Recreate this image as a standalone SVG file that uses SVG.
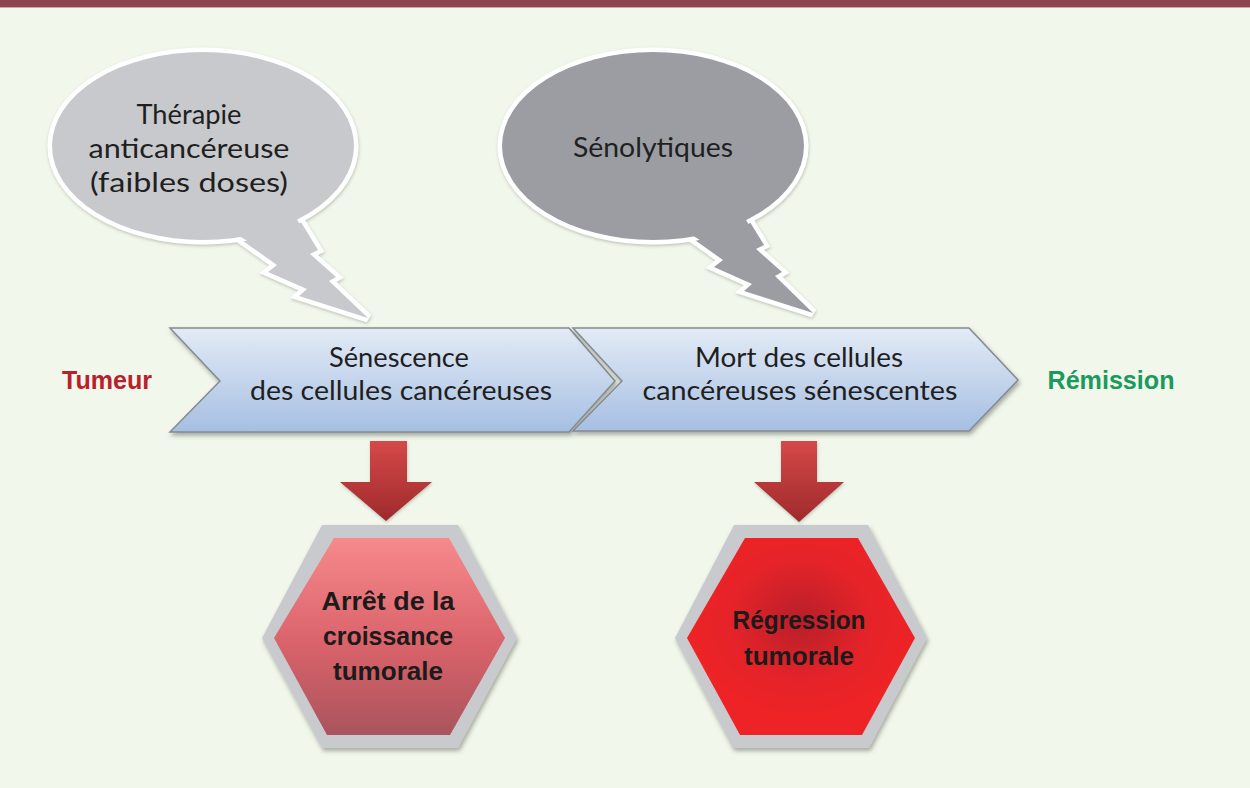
<svg xmlns="http://www.w3.org/2000/svg" width="1250" height="788" viewBox="0 0 1250 788">
<defs>
<style>
.lbl{font-family:Lato,"Open Sans","Noto Sans",sans-serif;font-size:27px;fill:#1f1f22;text-anchor:middle}
.bold{font-family:"Liberation Sans","Noto Sans",sans-serif;font-weight:bold;text-anchor:middle}
.hx{font-size:26px;fill:#1d1a1a}
.bub{stroke:#ffffff;stroke-width:9;stroke-linejoin:miter;paint-order:stroke}
.chev{fill:url(#gChev);stroke:#858b94;stroke-width:1.5;stroke-linejoin:miter}
.rim{fill:#c9cacd}
</style>
<linearGradient id="gChev" x1="0" y1="0" x2="0" y2="1">
<stop offset="0" stop-color="#e3ebf6"/>
<stop offset="1" stop-color="#a6bfe2"/>
</linearGradient>
<linearGradient id="gArrow" x1="0" y1="0" x2="0" y2="1">
<stop offset="0" stop-color="#d64848"/>
<stop offset="1" stop-color="#9e2a2c"/>
</linearGradient>
<linearGradient id="gHex1" x1="0" y1="0" x2="0" y2="1">
<stop offset="0" stop-color="#f68a8c"/>
<stop offset="0.55" stop-color="#d9626a"/>
<stop offset="1" stop-color="#a9545d"/>
</linearGradient>
<radialGradient id="gHex2" cx="0.5" cy="0.42" r="0.5">
<stop offset="0" stop-color="#b81f29"/>
<stop offset="0.6" stop-color="#e42329"/>
<stop offset="1" stop-color="#ee2325"/>
</radialGradient>
<filter id="sh" x="-10%" y="-10%" width="125%" height="130%">
<feDropShadow dx="1.5" dy="3" stdDeviation="2" flood-color="#4a4f45" flood-opacity="0.45"/>
</filter>
<filter id="shs" x="-10%" y="-10%" width="125%" height="130%">
<feDropShadow dx="0.5" dy="1.5" stdDeviation="1.5" flood-color="#5a5f55" flood-opacity="0.35"/>
</filter>
</defs>
<rect x="0" y="0" width="1250" height="788" fill="#f1f7ea"/>
<rect x="0" y="0" width="1250" height="7" fill="#8e4450"/>
<rect x="0" y="7" width="1250" height="1" fill="#c9a9a9"/>

<g id="bubble-therapie">
<g filter="url(#shs)">
<polygon class="bub" fill="#c8c9cc" points="236,236 296,214 318,250 310,254 336,277 329,281 368,318 299,296 307,289 268,272 277,265"/>
<ellipse class="bub" cx="203" cy="146" rx="151" ry="94" fill="#c8c9cc"/>
</g>
<polygon fill="#c8c9cc" points="236,234 294,214 304,232 262,250"/>
<text class="lbl" x="189" y="124" textLength="105" lengthAdjust="spacingAndGlyphs">Thérapie</text>
<text class="lbl" x="189" y="158" textLength="201" lengthAdjust="spacingAndGlyphs">anticancéreuse</text>
<text class="lbl" x="189" y="192" textLength="198" lengthAdjust="spacingAndGlyphs">(faibles doses)</text>
</g>

<g id="bubble-senolytiques">
<g filter="url(#shs)">
<polygon class="bub" fill="#9b9da3" points="682,231 742,209 764,245 756,249 782,272 775,276 813,313 744,291 752,284 714,267 723,260"/>
<ellipse class="bub" cx="653" cy="146" rx="151" ry="94" fill="#9b9da3"/>
</g>
<polygon fill="#9b9da3" points="682,229 740,209 750,227 708,245"/>
<text class="lbl" x="653" y="157" textLength="160" lengthAdjust="spacingAndGlyphs">Sénolytiques</text>
</g>

<g id="tumeur"><text class="bold" x="107" y="389" font-size="25" fill="#b8202e" textLength="90" lengthAdjust="spacingAndGlyphs">Tumeur</text></g>
<g id="remission"><text class="bold" x="1111" y="389" font-size="25" fill="#1b9a5f" textLength="127" lengthAdjust="spacingAndGlyphs">Rémission</text></g>

<g id="chevron-senescence">
<polygon class="chev" filter="url(#sh)" points="170,328 569,328 615,381 569,432 170,432 220,381"/>
<text class="lbl" x="399" y="367" textLength="140" lengthAdjust="spacingAndGlyphs">Sénescence</text>
<text class="lbl" x="401" y="400" textLength="302" lengthAdjust="spacingAndGlyphs">des cellules cancéreuses</text>
</g>

<g id="chevron-mort">
<polygon class="chev" filter="url(#sh)" points="573,328 969,328 1018,380 969,431 573,431 622,381"/>
<text class="lbl" x="799" y="367" textLength="208" lengthAdjust="spacingAndGlyphs">Mort des cellules</text>
<text class="lbl" x="800" y="400" textLength="315" lengthAdjust="spacingAndGlyphs">cancéreuses sénescentes</text>
</g>

<g id="connectors">
<polygon fill="url(#gArrow)" filter="url(#shs)" points="370,441 407,441 407,482 432,482 386,521 340,482 370,482"/>
<polygon fill="url(#gArrow)" filter="url(#shs)" points="781,441 817,441 817,482 844,482 799,522 754,482 781,482"/>
</g>

<g id="hex-arret">
<polygon class="rim" filter="url(#sh)" points="322,525 458,525 517,638 458,748 322,748 262,638"/>
<polygon fill="url(#gHex1)" points="334,538 449,538 505,638 450,735 327,735 274,638"/>
<text class="bold hx" x="388" y="610" textLength="133" lengthAdjust="spacingAndGlyphs">Arrêt de la</text>
<text class="bold hx" x="388" y="645" textLength="130" lengthAdjust="spacingAndGlyphs">croissance</text>
<text class="bold hx" x="388" y="680" textLength="110" lengthAdjust="spacingAndGlyphs">tumorale</text>
</g>

<g id="hex-regression">
<polygon class="rim" filter="url(#sh)" points="734,525 868,525 927,638 869,748 733,748 675,638"/>
<polygon fill="url(#gHex2)" points="745,538 858,538 915,638 862,735 740,735 687,638"/>
<text class="bold hx" x="799" y="629" textLength="133" lengthAdjust="spacingAndGlyphs">Régression</text>
<text class="bold hx" x="799" y="665" textLength="110" lengthAdjust="spacingAndGlyphs">tumorale</text>
</g>
</svg>
